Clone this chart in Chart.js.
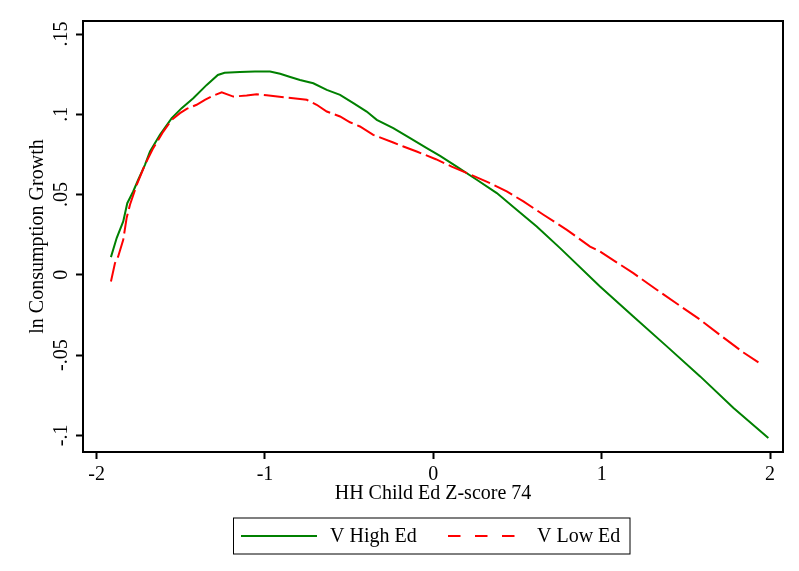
<!DOCTYPE html>
<html><head><meta charset="utf-8">
<script src="https://cdn.jsdelivr.net/npm/chart.js@4/dist/chart.umd.min.js"></script>
<style>html,body{margin:0;padding:0;background:#fff;} canvas{display:block;}</style>
</head><body>
<canvas id="c" width="799" height="571"></canvas>
<script>
const highEdLabel = 'V High Ed';
const lowEdLabel = 'V Low Ed';
const highEdX = [-1.915,-1.881,-1.842,-1.818,-1.783,-1.753,-1.713,-1.683,-1.624,-1.554,-1.495,-1.426,-1.346,-1.28,-1.24,-1.149,-1.06,-0.97,-0.91,-0.85,-0.792,-0.713,-0.633,-0.554,-0.475,-0.396,-0.336,-0.238,-0.138,-0.039,0.040,0.139,0.258,0.377,0.495,0.614,0.753,0.990,1.188,1.387,1.585,1.783,1.99];
const highEdY = [0.011,0.0229,0.0332,0.0446,0.0519,0.0592,0.0685,0.0768,0.0872,0.0976,0.1038,0.110,0.1183,0.1245,0.1258,0.1264,0.1267,0.1267,0.1252,0.1232,0.1214,0.1193,0.1152,0.1121,0.1069,0.1017,0.0965,0.0913,0.0851,0.0789,0.0741,0.0674,0.0592,0.0509,0.0405,0.0301,0.0166,-0.0073,-0.026,-0.0446,-0.0633,-0.083,-0.1017];
const lowEdX = [-1.915,-1.891,-1.872,-1.842,-1.822,-1.802,-1.762,-1.713,-1.664,-1.604,-1.554,-1.505,-1.465,-1.406,-1.357,-1.307,-1.257,-1.188,-1.109,-1.049,-0.99,-0.832,-0.752,-0.693,-0.633,-0.554,-0.495,-0.436,-0.357,-0.238,-0.178,-0.099,0.015,0.109,0.238,0.337,0.436,0.535,0.654,0.793,0.931,0.99,1.188,1.327,1.456,1.585,1.714,1.842,1.931];
const lowEdY = [-0.0042,0.0073,0.0114,0.0218,0.0353,0.0436,0.056,0.0685,0.0789,0.0892,0.0965,0.1007,0.1034,0.1059,0.109,0.1116,0.1137,0.111,0.1117,0.1125,0.1118,0.110,0.109,0.1059,0.1017,0.0986,0.095,0.0924,0.0872,0.0824,0.0799,0.0768,0.072,0.0674,0.0616,0.0571,0.0519,0.0457,0.0374,0.028,0.0176,0.0145,0.001,-0.0093,-0.0187,-0.028,-0.0384,-0.0484,-0.0546];
const xTicks = [-2,-1,0,1,2];
const xTickLabels = ['-2','-1','0','1','2'];
const yTicks = [-0.1,-0.05,0,0.05,0.1,0.15];
const yTickLabels = ['-.1','-.05','0','.05','.1','.15'];
const xTitle = 'HH Child Ed Z-score 74';
const yTitle = 'ln Consumption Growth';

const FONT = "'Liberation Serif','Times New Roman',serif";
const GREEN = 'rgb(0,128,0)';
const RED = 'rgb(255,0,0)';

function pts(xs, ys){ return xs.map((x,i)=>({x:x, y:ys[i]})); }

const framePlugin = {
  id: 'frame',
  afterDraw(chart){
    const ctx = chart.ctx, a = chart.chartArea;
    ctx.save();
    ctx.strokeStyle = '#000'; ctx.lineWidth = 2;
    ctx.strokeRect(a.left, a.top, a.right - a.left, a.bottom - a.top);
    // y tick labels, rotated
    const ys = chart.scales.y;
    ctx.fillStyle = '#000';
    ctx.font = '20px ' + FONT;
    ctx.textAlign = 'center'; ctx.textBaseline = 'alphabetic';
    ys.ticks.forEach((t, i) => {
      const p = ys.getPixelForValue(t.value);
      ctx.save(); ctx.translate(67, p); ctx.rotate(-Math.PI/2);
      ctx.fillText(yTickLabels[i], 0, 0); ctx.restore();
    });
    // legend
    const L = {x: 233.5, y: 518, w: 396.5, h: 36};
    ctx.lineWidth = 1; ctx.strokeStyle = '#000';
    ctx.strokeRect(L.x, L.y, L.w, L.h);
    const ds = chart.data.datasets;
    const items = [{x0:241, x1:317, tx:330}, {x0:448, x1:522, tx:537}];
    items.forEach((it, i) => {
      const d = ds[i];
      ctx.save();
      ctx.strokeStyle = d.borderColor; ctx.lineWidth = 2;
      ctx.setLineDash(i === 1 ? [12.5, 14.5] : []);
      ctx.beginPath(); ctx.moveTo(it.x0, 536); ctx.lineTo(it.x1, 536); ctx.stroke();
      ctx.restore();
      ctx.textAlign = 'left'; ctx.textBaseline = 'alphabetic';
      ctx.fillText(d.label, it.tx, 542);
    });
    ctx.restore();
  }
};

new Chart(document.getElementById('c'), {
  type: 'scatter',
  data: {
    datasets: [
      {label: highEdLabel, data: pts(highEdX, highEdY), showLine: true, borderColor: GREEN, backgroundColor: GREEN, borderWidth: 2, pointRadius: 0, tension: 0, order: 2},
      {label: lowEdLabel, data: pts(lowEdX, lowEdY), showLine: true, borderColor: RED, backgroundColor: RED, borderWidth: 2, pointRadius: 0, tension: 0, borderDash: [20, 5], order: 1}
    ]
  },
  options: {
    responsive: false, animation: false, devicePixelRatio: 1,
    layout: {padding: {left: 0, top: 21, right: 16, bottom: 0}},
    plugins: {legend: {display: false}, tooltip: {enabled: false}},
    scales: {
      x: {
        type: 'linear', min: -2.081, max: 2.077,
        afterBuildTicks(s){ s.ticks = xTicks.map(v => ({value: v})); },
        afterFit(s){ s.height = 119; },
        grid: {drawOnChartArea: false, drawTicks: true, tickLength: 7, tickWidth: 2, tickColor: '#000'},
        border: {display: false},
        ticks: {color: '#000', font: {family: FONT, size: 20}, padding: 4, maxRotation: 0, callback: (v, i) => xTickLabels[i]},
        title: {display: true, text: xTitle, color: '#000', font: {family: FONT, size: 20}, padding: {top: 0, bottom: 65}}
      },
      y: {
        type: 'linear', min: -0.1104, max: 0.1581,
        afterBuildTicks(s){ s.ticks = yTicks.map(v => ({value: v})); },
        afterFit(s){ s.width = 83; },
        grid: {drawOnChartArea: false, drawTicks: true, tickLength: 7, tickWidth: 2, tickColor: '#000'},
        border: {display: false},
        ticks: {display: false},
        title: {display: true, text: yTitle, color: '#000', font: {family: FONT, size: 20}, padding: {top: 26, bottom: 0}}
      }
    }
  },
  plugins: [framePlugin]
});
</script>
</body></html>
